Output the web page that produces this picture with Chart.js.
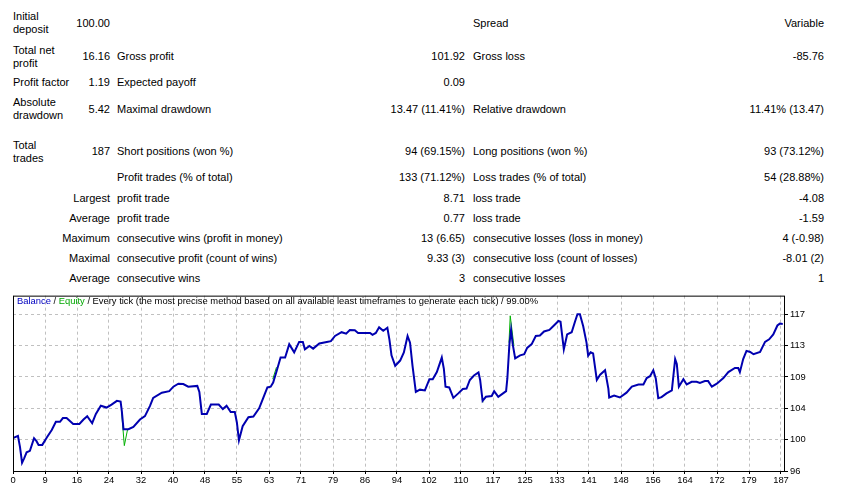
<!DOCTYPE html>
<html>
<head>
<meta charset="utf-8">
<title>Strategy Tester Report</title>
<script src="https://cdn.jsdelivr.net/npm/chart.js@4/dist/chart.umd.min.js"></script>
<style>
  html, body { margin: 0; padding: 0; background: #fff; }
  #page { position: relative; width: 852px; height: 494px; overflow: hidden;
          font-family: "Liberation Sans", Arial, sans-serif; font-size: 11px; color: #000; }
  .t { position: absolute; line-height: 13px; white-space: nowrap; }
  .r { text-align: right; }
  #chartBox { position: absolute; left: 0; top: 288px; width: 852px; height: 206px; }
  #chartTitle { position: absolute; left: 17px; top: 295px; font-size: 9.4px; line-height: 11px; white-space: nowrap; z-index: 2; }
  #chartTitle .bal { color: #0000c0; }
  #chartTitle .eq { color: #00a800; }
</style>
</head>
<body>
<div id="page">
  <!-- row 1 -->
  <div class="t" style="left:13px;top:10px">Initial<br>deposit</div>
  <div class="t r" style="right:742px;top:17px">100.00</div>
  <div class="t" style="left:473px;top:17px">Spread</div>
  <div class="t r" style="right:28px;top:17px">Variable</div>
  <!-- row 2 -->
  <div class="t" style="left:13px;top:44px">Total net<br>profit</div>
  <div class="t r" style="right:742px;top:50px">16.16</div>
  <div class="t" style="left:117px;top:50px">Gross profit</div>
  <div class="t r" style="right:387px;top:50px">101.92</div>
  <div class="t" style="left:473px;top:50px">Gross loss</div>
  <div class="t r" style="right:28px;top:50px">-85.76</div>
  <!-- row 3 -->
  <div class="t" style="left:13px;top:76px">Profit factor</div>
  <div class="t r" style="right:742px;top:76px">1.19</div>
  <div class="t" style="left:117px;top:76px">Expected payoff</div>
  <div class="t r" style="right:387px;top:76px">0.09</div>
  <!-- row 4 -->
  <div class="t" style="left:13px;top:96px">Absolute<br>drawdown</div>
  <div class="t r" style="right:742px;top:103px">5.42</div>
  <div class="t" style="left:117px;top:103px">Maximal drawdown</div>
  <div class="t r" style="right:387px;top:103px">13.47 (11.41%)</div>
  <div class="t" style="left:473px;top:103px">Relative drawdown</div>
  <div class="t r" style="right:28px;top:103px">11.41% (13.47)</div>
  <!-- row 5 -->
  <div class="t" style="left:13px;top:139px">Total<br>trades</div>
  <div class="t r" style="right:742px;top:145px">187</div>
  <div class="t" style="left:117px;top:145px">Short positions (won %)</div>
  <div class="t r" style="right:387px;top:145px">94 (69.15%)</div>
  <div class="t" style="left:473px;top:145px">Long positions (won %)</div>
  <div class="t r" style="right:28px;top:145px">93 (73.12%)</div>
  <!-- row 6 -->
  <div class="t" style="left:117px;top:171px">Profit trades (% of total)</div>
  <div class="t r" style="right:387px;top:171px">133 (71.12%)</div>
  <div class="t" style="left:473px;top:171px">Loss trades (% of total)</div>
  <div class="t r" style="right:28px;top:171px">54 (28.88%)</div>
  <!-- row 7 -->
  <div class="t r" style="right:742px;top:192px">Largest</div>
  <div class="t" style="left:117px;top:192px">profit trade</div>
  <div class="t r" style="right:387px;top:192px">8.71</div>
  <div class="t" style="left:473px;top:192px">loss trade</div>
  <div class="t r" style="right:28px;top:192px">-4.08</div>
  <!-- row 8 -->
  <div class="t r" style="right:742px;top:212px">Average</div>
  <div class="t" style="left:117px;top:212px">profit trade</div>
  <div class="t r" style="right:387px;top:212px">0.77</div>
  <div class="t" style="left:473px;top:212px">loss trade</div>
  <div class="t r" style="right:28px;top:212px">-1.59</div>
  <!-- row 9 -->
  <div class="t r" style="right:742px;top:232px">Maximum</div>
  <div class="t" style="left:117px;top:232px">consecutive wins (profit in money)</div>
  <div class="t r" style="right:387px;top:232px">13 (6.65)</div>
  <div class="t" style="left:473px;top:232px">consecutive losses (loss in money)</div>
  <div class="t r" style="right:28px;top:232px">4 (-0.98)</div>
  <!-- row 10 -->
  <div class="t r" style="right:742px;top:252px">Maximal</div>
  <div class="t" style="left:117px;top:252px">consecutive profit (count of wins)</div>
  <div class="t r" style="right:387px;top:252px">9.33 (3)</div>
  <div class="t" style="left:473px;top:252px">consecutive loss (count of losses)</div>
  <div class="t r" style="right:28px;top:252px">-8.01 (2)</div>
  <!-- row 11 -->
  <div class="t r" style="right:742px;top:272px">Average</div>
  <div class="t" style="left:117px;top:272px">consecutive wins</div>
  <div class="t r" style="right:387px;top:272px">3</div>
  <div class="t" style="left:473px;top:272px">consecutive losses</div>
  <div class="t r" style="right:28px;top:272px">1</div>

  <div id="chartBox"><canvas id="balanceChart"></canvas></div>
  <div id="chartTitle"><span class="bal">Balance</span> / <span class="eq">Equity</span> / Every tick (the most precise method based on all available least timeframes to generate each tick) / 99.00%</div>
</div>

<script>
// balance curve (trade number -> balance)
const balanceX = [0, 1.2, 1.7, 2.2, 2.7, 3.3, 4.1, 5.1, 5.7, 6.2, 7.1, 8.2, 9.4, 10.4, 11.4, 12.1, 13.0, 14.6, 16.1, 17.1,
  18.0, 19.2, 20.1, 21.3, 22.7, 23.9, 25.2, 26.1, 26.4, 26.8, 28.0, 29.2, 30.8, 32.0, 33.2, 34.0, 36.1, 37.9, 38.9, 40.1,
  41.3, 42.5, 44.7, 45.2, 45.8, 47.0, 48.0, 49.9, 50.9, 51.8, 52.8, 53.8, 54.3, 54.8, 55.7, 57.1, 58.3, 59.7, 60.7, 61.7,
  62.5, 63.1, 64.0, 64.9, 66.0, 67.0, 68.2, 69.4, 70.3, 70.8, 71.9, 72.8, 74.3, 76.1, 77.1, 78.1, 79.7, 80.8, 81.7, 82.9,
  83.7, 86.6, 87.2, 88.0, 88.8, 89.8, 90.8, 91.3, 91.8, 92.7, 93.9, 94.8, 95.7, 96.3, 96.9, 97.7, 98.7, 99.9, 101.0, 101.8,
  102.8, 104.0, 104.5, 104.9, 105.8, 106.8, 108.0, 109.1, 110.0, 110.8, 111.8, 112.9, 113.3, 113.9, 114.7, 116.1, 116.7, 117.7, 119.6, 119.9,
  120.4, 120.8, 121.2, 121.8, 123.0, 124.0, 124.7, 125.8, 126.8, 127.8, 128.8, 130.1, 131.2, 132.3, 132.8, 133.6, 134.4, 135.5, 136.3, 136.9,
  137.5, 138.3, 139.1, 139.5, 140.1, 140.7, 141.6, 142.4, 143.6, 144.4, 144.6, 145.8, 147.2, 148.8, 150.1, 151.7, 152.9, 153.7, 154.5, 155.3,
  155.9, 156.5, 157.3, 158.5, 159.8, 160.6, 161.0, 161.5, 162.6, 163.4, 164.6, 165.8, 166.6, 167.8, 168.6, 169.5, 170.7, 172.3, 173.5, 175.1,
  175.9, 176.3, 177.1, 177.9, 178.8, 179.6, 181.2, 182.4, 183.4, 184.4, 185.4, 186.0, 186.7];
const balanceY = [100.4, 100.7, 99.2, 97.1, 97.7, 98.5, 98.7, 100.4, 100.0, 99.5, 99.5, 100.5, 101.5, 102.6, 102.6, 103.1, 103.1, 102.3, 102.3, 102.9,
  103.35, 102.4, 103.65, 104.75, 104.5, 104.9, 105.4, 105.3, 104.0, 101.6, 101.6, 101.9, 102.9, 103.35, 104.7, 105.8, 106.5, 106.7, 107.3, 107.7,
  107.65, 107.3, 107.4, 106.6, 103.65, 103.65, 104.9, 104.9, 104.3, 104.75, 103.9, 103.9, 102.5, 100.1, 102.0, 103.2, 103.3, 104.4, 105.8, 107.2,
  107.3, 107.85, 109.5, 111.2, 111.2, 113.0, 111.9, 113.3, 113.3, 112.3, 112.75, 112.4, 113.1, 113.3, 113.4, 114.1, 114.6, 114.4, 114.9, 114.85,
  114.5, 114.5, 114.25, 114.5, 115.25, 114.8, 115.2, 113.6, 111.5, 110.1, 110.8, 111.9, 114.1, 113.2, 110.1, 106.6, 106.9, 106.8, 108.3, 108.3,
  109.25, 111.2, 109.7, 107.3, 107.2, 105.8, 106.4, 107.0, 107.05, 108.2, 108.8, 109.2, 108.2, 105.4, 105.95, 106.05, 106.7, 105.95, 106.7, 108.4,
  113.0, 114.9, 113.0, 111.1, 111.5, 111.65, 112.5, 113.0, 114.1, 114.15, 114.7, 114.9, 115.5, 116.1, 116.0, 112.3, 114.3, 114.6, 116.0, 117.0,
  117.0, 115.4, 113.2, 111.45, 111.9, 111.75, 108.2, 108.9, 109.5, 107.05, 105.85, 106.1, 105.85, 106.5, 107.3, 107.6, 107.6, 108.45, 108.7, 109.5,
  108.4, 105.75, 105.9, 106.4, 106.8, 111.0, 110.35, 107.3, 108.3, 107.6, 107.95, 107.95, 107.8, 108.05, 108.05, 107.3, 107.7, 108.45, 109.25, 109.8,
  109.8, 109.25, 111.0, 112.1, 111.95, 111.65, 111.95, 113.3, 113.65, 114.3, 115.5, 115.75, 115.7];

// equity: only where it leaves the balance line (null = gap)
const equityX = [26.3, 27.0, 27.8, 27.9, 63.0, 63.9, 64.0, 120.3, 120.6, 121.5, 121.6, 113.8, 114.0, 133.5, 133.7];
const equityY = [104.2, 99.4, 101.6, null, 108.3, 109.9, null, 113.2, 116.8, 112.75, null, 105.6, 105.2, null, 112.0];

// axis tick labels as printed by the tester
const xTickLabels = ["0", "9", "16", "24", "32", "40", "48", "55", "63", "71", "79", "86", "94", "102", "110", "117",
  "125", "133", "141", "148", "156", "164", "172", "179", "187"];
const yTickValues = [96, 100.2, 104.4, 108.6, 112.8, 117];
const yTickLabels = ["96", "100", "104", "109", "113", "117"];

const xMax = 187;
const yMin = 96;
const yMax = 119.5;

document.addEventListener("DOMContentLoaded", function () {
  if (typeof Chart === "undefined") {
    console.error("Chart.js not loaded");
    return;
  }

  // grid every 32px on a 771px wide plot
  const xStep = xMax * 32 / 771;

  function toPoints(xs, ys) {
    return xs.map((x, i) => ({ x: x, y: ys[i] }));
  }

  // black frame round the plot
  const framePlugin = {
    id: "frame",
    afterDraw(chart) {
      const a = chart.chartArea;
      const ctx = chart.ctx;
      ctx.save();
      ctx.strokeStyle = "#000";
      ctx.lineWidth = 1;
      ctx.strokeRect(a.left + 0.5, a.top + 0.5, a.right - a.left, a.bottom - a.top);
      ctx.restore();
    },
  };

  Chart.defaults.font.family = "'Liberation Sans', Arial, sans-serif";
  Chart.defaults.font.size = 9.4;
  Chart.defaults.color = "#000";

  new Chart(document.getElementById("balanceChart").getContext("2d"), {
    type: "line",
    data: {
      datasets: [
        {
          label: "Balance",
          data: toPoints(balanceX, balanceY),
          borderColor: "#0000b0",
          borderWidth: 2,
          pointRadius: 0,
          tension: 0,
          fill: false,
        },
        {
          label: "Equity",
          data: toPoints(equityX, equityY),
          borderColor: "#00b000",
          borderWidth: 1,
          pointRadius: 0,
          tension: 0,
          fill: false,
          spanGaps: false,
        },
      ],
    },
    options: {
      responsive: true,
      maintainAspectRatio: false,
      animation: false,
      layout: { padding: { left: 13, top: 4, right: 0, bottom: 0 } },
      plugins: {
        legend: { display: false },
        tooltip: { enabled: false },
      },
      scales: {
        x: {
          type: "linear",
          min: 0,
          max: xMax,
          afterBuildTicks: (s) => { s.ticks = xTickLabels.map((l, k) => ({ value: k * xStep })); },
          afterFit: (s) => { s.height = 23; },
          ticks: {
            autoSkip: false,
            maxRotation: 0,
            padding: 1,
            callback: (v, i) => xTickLabels[i],
          },
          grid: { color: "#c0c0c0", tickColor: "#000", tickLength: 3 },
          border: { display: false, dash: [3, 3] },
        },
        y: {
          position: "right",
          min: yMin,
          max: yMax,
          afterBuildTicks: (s) => { s.ticks = yTickValues.map((v) => ({ value: v })); },
          afterFit: (s) => { s.width = 68; },
          ticks: {
            padding: 2,
            callback: (v, i) => yTickLabels[i],
          },
          grid: { color: "#c0c0c0", tickColor: "#000", tickLength: 4 },
          border: { display: false, dash: [3, 3] },
        },
      },
    },
    plugins: [framePlugin],
  });
});
</script>
</body>
</html>
